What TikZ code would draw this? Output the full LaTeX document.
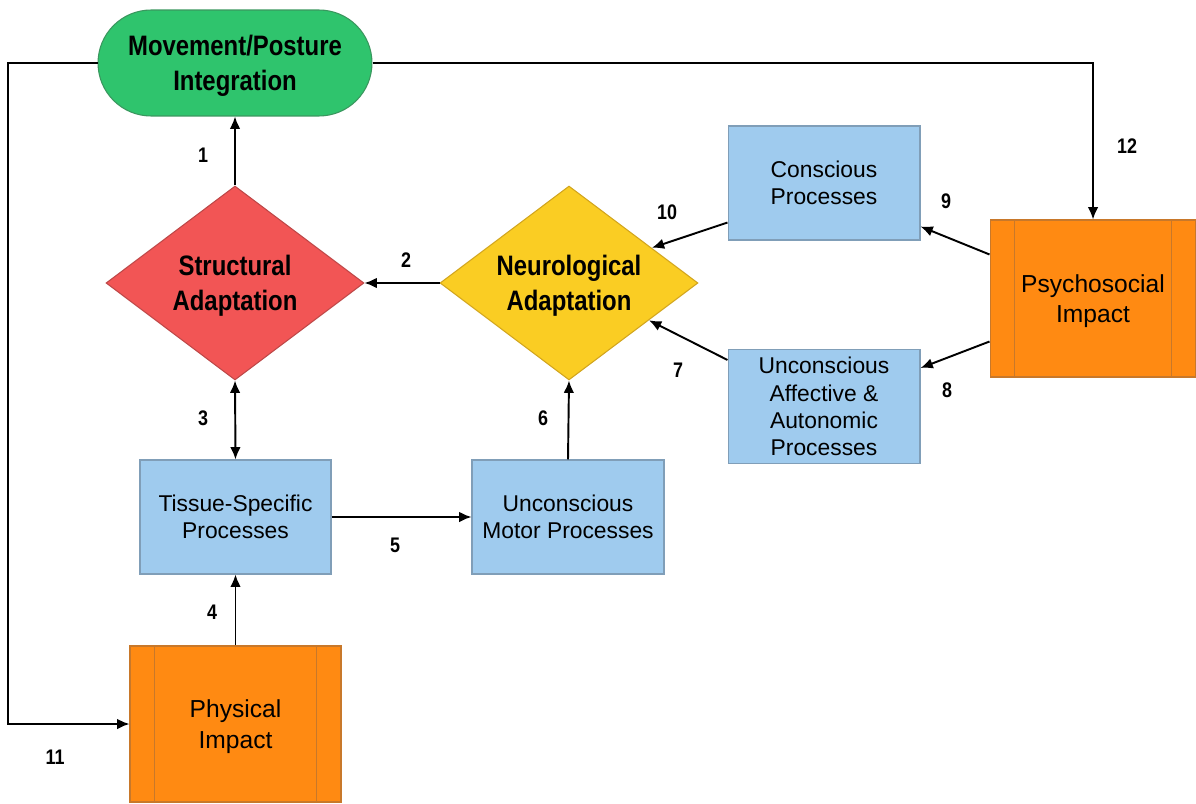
\documentclass[tikz,border=0pt]{standalone}
\usepackage{fontspec}
\setmainfont{Liberation Sans}
\newfontfamily\condfont[FakeStretch=0.85]{Liberation Sans}
\usetikzlibrary{shapes.geometric,arrows.meta}
\definecolor{movegreen}{RGB}{47,196,109}
\definecolor{moveedge}{RGB}{58,150,94}
\definecolor{structred}{RGB}{242,85,85}
\definecolor{structedge}{RGB}{190,72,72}
\definecolor{neuroyellow}{RGB}{250,205,35}
\definecolor{neuroedge}{RGB}{210,165,30}
\definecolor{procblue}{RGB}{159,203,238}
\definecolor{procedge}{RGB}{128,158,184}
\definecolor{impactorange}{RGB}{255,138,18}
\definecolor{impactedge}{RGB}{200,120,42}
\begin{document}
\begin{tikzpicture}[x=0.02cm, y=-0.02cm, line width=1.1pt, >={Latex[length=7pt,width=6pt]}]
        \tikzstyle{proc} = [shape = rectangle, fill = procblue, draw = procedge, line width = 0.6pt, minimum width = 3.84cm, minimum height = 2.28cm, align = center, font = \fontsize{13}{15.5}\selectfont]
        \tikzstyle{adapt} = [shape = diamond, aspect = 1.33, minimum width = 5.16cm, minimum height = 3.88cm, inner sep = 0pt, line width = 0.6pt, align = center, text depth = 0pt, font = \condfont\bfseries\fontsize{16}{20}\selectfont]
        \tikzstyle{impact} = [shape = rectangle, fill = impactorange, draw = impactedge, line width = 0.6pt, align = center, text depth = 0pt, font = \fontsize{14}{17.5}\selectfont]
        \tikzstyle{num} = [font = \condfont\bfseries\fontsize{12}{14}\selectfont]
        \tikzstyle{link} = [->, line width = 1.1pt]
        \useasboundingbox (0, 0) rectangle (1196, 804);
        \node[shape = rectangle, rounded corners = 1.06cm, fill = movegreen, draw = moveedge, line width = 0.6pt, minimum width = 5.48cm, minimum height = 2.12cm, align = center, text depth = 0pt, font = \condfont\bfseries\fontsize{16}{20}\selectfont] (N-move) at (235, 63) {Movement/Posture\\Integration};
        \node[adapt, fill = structred, draw = structedge] (D-struct) at (235, 283) {Structural\\Adaptation};
        \node[adapt, fill = neuroyellow, draw = neuroedge] (D-neuro) at (569, 283) {Neurological\\Adaptation};
        \node[proc] (B-consc) at (824, 183) {Conscious\\Processes};
        \node[proc] (B-affect) at (824, 406.5) {Unconscious\\Affective \&\\Autonomic\\Processes};
        \node[proc, minimum width = 3.82cm] (B-tissue) at (235.5, 517) {Tissue-Specific\\Processes};
        \node[proc] (B-motor) at (568, 517) {Unconscious\\Motor Processes};
        \node[impact, minimum width = 4.12cm, minimum height = 3.14cm] (O-psych) at (1093, 298.5) {Psychosocial\\Impact};
        \node[impact, minimum width = 4.22cm, minimum height = 3.12cm] (O-phys) at (235.5, 724) {Physical\\Impact};
        \foreach \b in {O-psych, O-phys}
          \draw[impactedge, line width = 0.6pt] ([xshift = 0.5cm]\b.north west) -- ([xshift = 0.5cm]\b.south west)
            ([xshift = -0.5cm]\b.north east) -- ([xshift = -0.5cm]\b.south east);
        \coordinate (C-left) at (8, 63);
        \draw[link] (D-struct.north) -- (N-move.south);
        \draw[link] (D-neuro.west) -- (D-struct.east);
        \draw[link, <->] (D-struct.south) -- (B-tissue.north);
        \draw[link] (O-phys.north) -- (B-tissue.south);
        \draw[link] (B-tissue.east) -- (B-motor.west);
        \draw[link] (B-motor.north) -- (D-neuro.south);
        \draw[link] ([yshift = -0.22cm]B-affect.north west) -- (D-neuro.-25);
        \draw[link] ([yshift = 0.72cm]O-psych.south west) -- ([yshift = -0.38cm]B-affect.north east);
        \draw[link] ([yshift = -0.7cm]O-psych.north west) -- ([yshift = 0.28cm]B-consc.south east);
        \draw[link] ([yshift = 0.36cm]B-consc.south west) -- (D-neuro.23);
        \draw[link] (N-move.west) -- (C-left) |- (O-phys.west);
        \draw[link] (N-move.east) -| (O-psych.north);
        \node[num] (L-1) at (203, 155) {1};
        \node[num] (L-2) at (406, 260) {2};
        \node[num] (L-3) at (203, 418) {3};
        \node[num] (L-4) at (212, 612) {4};
        \node[num] (L-5) at (395, 545) {5};
        \node[num] (L-6) at (543, 418) {6};
        \node[num] (L-7) at (678, 370) {7};
        \node[num] (L-8) at (947, 390) {8};
        \node[num] (L-9) at (946, 201) {9};
        \node[num] (L-10) at (667, 212) {10};
        \node[num] (L-11) at (55, 757) {11};
        \node[num] (L-12) at (1127, 146) {12};
      \end{tikzpicture}
\end{document}
